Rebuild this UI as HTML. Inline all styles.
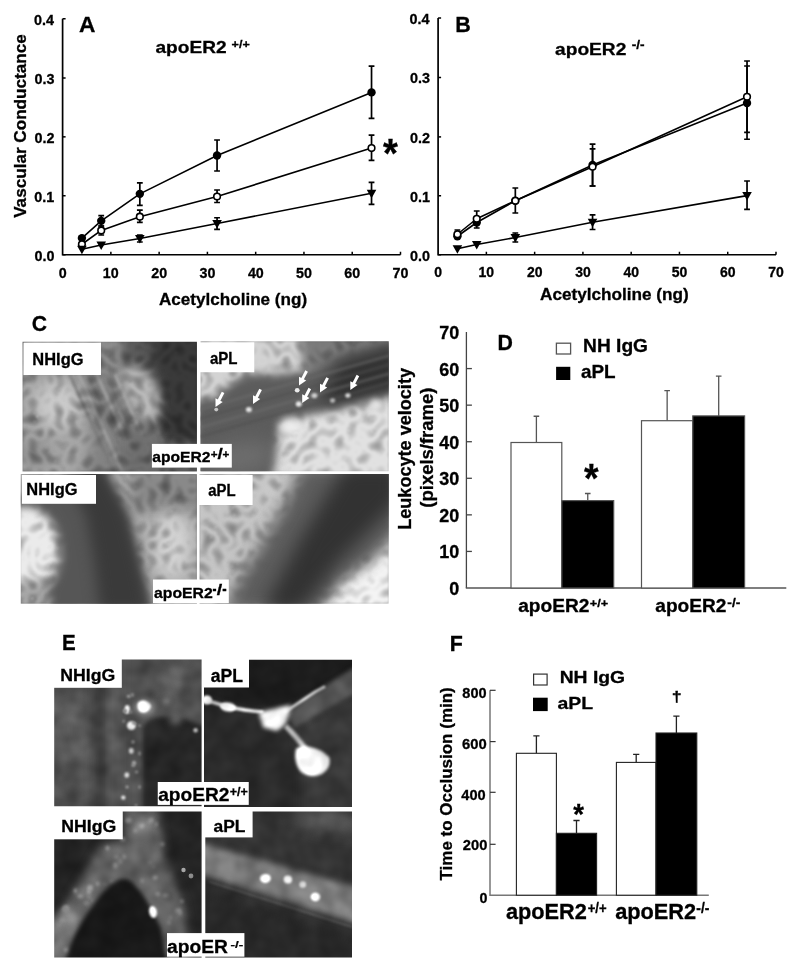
<!DOCTYPE html>
<html><head><meta charset="utf-8"><style>
html,body{margin:0;padding:0;background:#fff;}
svg{display:block;will-change:transform;}
</style></head><body>
<svg width="800" height="972" viewBox="0 0 800 972">
<rect width="800" height="972" fill="#fff"/>
<path d="M62.60 18.75V254.75H400.49" fill="none" stroke="#000" stroke-width="1.7"/>
<path d="M62.60 254.75h3" stroke="#000" stroke-width="1.5"/>
<text transform="matrix(0.14366 0 0 0.14366 34.506 260.506)" font-size="100" font-family="Liberation Sans, sans-serif" font-weight="bold" fill="#000" stroke="#000" stroke-width="2.09">0.0</text>
<path d="M62.60 195.75h3" stroke="#000" stroke-width="1.5"/>
<text transform="matrix(0.14366 0 0 0.14366 34.362 201.506)" font-size="100" font-family="Liberation Sans, sans-serif" font-weight="bold" fill="#000" stroke="#000" stroke-width="2.09">0.1</text>
<path d="M62.60 136.85h3" stroke="#000" stroke-width="1.5"/>
<text transform="matrix(0.14366 0 0 0.14366 34.506 142.606)" font-size="100" font-family="Liberation Sans, sans-serif" font-weight="bold" fill="#000" stroke="#000" stroke-width="2.09">0.2</text>
<path d="M62.60 78.00h3" stroke="#000" stroke-width="1.5"/>
<text transform="matrix(0.14366 0 0 0.14366 34.506 83.756)" font-size="100" font-family="Liberation Sans, sans-serif" font-weight="bold" fill="#000" stroke="#000" stroke-width="2.09">0.3</text>
<path d="M62.60 18.75h3" stroke="#000" stroke-width="1.5"/>
<text transform="matrix(0.14366 0 0 0.14366 33.931 24.506)" font-size="100" font-family="Liberation Sans, sans-serif" font-weight="bold" fill="#000" stroke="#000" stroke-width="2.09">0.4</text>
<text transform="matrix(0.14289 0 0 0.14507 58.670 277.655)" font-size="100" font-family="Liberation Sans, sans-serif" font-weight="bold" fill="#000" stroke="#000" stroke-width="2.08">0</text>
<path d="M110.87 254.75v-3" stroke="#000" stroke-width="1.5"/>
<text transform="matrix(0.14289 0 0 0.14507 102.796 277.655)" font-size="100" font-family="Liberation Sans, sans-serif" font-weight="bold" fill="#000" stroke="#000" stroke-width="2.08">10</text>
<path d="M159.14 254.75v-3" stroke="#000" stroke-width="1.5"/>
<text transform="matrix(0.14289 0 0 0.14507 151.281 277.655)" font-size="100" font-family="Liberation Sans, sans-serif" font-weight="bold" fill="#000" stroke="#000" stroke-width="2.08">20</text>
<path d="M207.41 254.75v-3" stroke="#000" stroke-width="1.5"/>
<text transform="matrix(0.14289 0 0 0.14507 199.622 277.655)" font-size="100" font-family="Liberation Sans, sans-serif" font-weight="bold" fill="#000" stroke="#000" stroke-width="2.08">30</text>
<path d="M255.68 254.75v-3" stroke="#000" stroke-width="1.5"/>
<text transform="matrix(0.14289 0 0 0.14507 247.892 277.655)" font-size="100" font-family="Liberation Sans, sans-serif" font-weight="bold" fill="#000" stroke="#000" stroke-width="2.08">40</text>
<path d="M303.95 254.75v-3" stroke="#000" stroke-width="1.5"/>
<text transform="matrix(0.14289 0 0 0.14507 296.091 277.655)" font-size="100" font-family="Liberation Sans, sans-serif" font-weight="bold" fill="#000" stroke="#000" stroke-width="2.08">50</text>
<path d="M352.22 254.75v-3" stroke="#000" stroke-width="1.5"/>
<text transform="matrix(0.14289 0 0 0.14507 344.289 277.655)" font-size="100" font-family="Liberation Sans, sans-serif" font-weight="bold" fill="#000" stroke="#000" stroke-width="2.08">60</text>
<path d="M400.49 254.75v-3" stroke="#000" stroke-width="1.5"/>
<text transform="matrix(0.14289 0 0 0.14507 392.559 277.655)" font-size="100" font-family="Liberation Sans, sans-serif" font-weight="bold" fill="#000" stroke="#000" stroke-width="2.08">70</text>
<path d="M81.91 238.10 L101.22 220.85 L139.83 193.85 L217.06 155.50 L371.53 92.40" fill="none" stroke="#000" stroke-width="1.6" stroke-linejoin="round"/>
<path d="M81.91 244.25 L101.22 230.40 L139.83 216.70 L217.06 196.50 L371.53 148.10" fill="none" stroke="#000" stroke-width="1.6" stroke-linejoin="round"/>
<path d="M81.91 249.30 L101.22 245.00 L139.83 238.50 L217.06 223.50 L371.53 193.30" fill="none" stroke="#000" stroke-width="1.6" stroke-linejoin="round"/>
<path d="M101.22 215.60V226.00M98.32 215.60h5.8M98.32 226.00h5.8" stroke="#000" stroke-width="1.7" fill="none"/>
<path d="M139.83 182.90V205.40M136.93 182.90h5.8M136.93 205.40h5.8" stroke="#000" stroke-width="1.7" fill="none"/>
<path d="M217.06 140.00V171.00M214.16 140.00h5.8M214.16 171.00h5.8" stroke="#000" stroke-width="1.7" fill="none"/>
<path d="M371.53 66.10V118.40M368.63 66.10h5.8M368.63 118.40h5.8" stroke="#000" stroke-width="1.7" fill="none"/>
<path d="M101.22 226.00V235.00M98.32 226.00h5.8M98.32 235.00h5.8" stroke="#000" stroke-width="1.7" fill="none"/>
<path d="M139.83 210.20V222.30M136.93 210.20h5.8M136.93 222.30h5.8" stroke="#000" stroke-width="1.7" fill="none"/>
<path d="M217.06 190.00V202.50M214.16 190.00h5.8M214.16 202.50h5.8" stroke="#000" stroke-width="1.7" fill="none"/>
<path d="M371.53 135.20V160.40M368.63 135.20h5.8M368.63 160.40h5.8" stroke="#000" stroke-width="1.7" fill="none"/>
<path d="M139.83 235.00V242.00M136.93 235.00h5.8M136.93 242.00h5.8" stroke="#000" stroke-width="1.7" fill="none"/>
<path d="M217.06 217.75V229.30M214.16 217.75h5.8M214.16 229.30h5.8" stroke="#000" stroke-width="1.7" fill="none"/>
<path d="M371.53 182.30V204.40M368.63 182.30h5.8M368.63 204.40h5.8" stroke="#000" stroke-width="1.7" fill="none"/>
<circle cx="81.91" cy="238.10" r="4.2" fill="#000"/>
<circle cx="101.22" cy="220.85" r="4.2" fill="#000"/>
<circle cx="139.83" cy="193.85" r="4.2" fill="#000"/>
<circle cx="217.06" cy="155.50" r="4.2" fill="#000"/>
<circle cx="371.53" cy="92.40" r="4.2" fill="#000"/>
<circle cx="81.91" cy="244.25" r="3.3" fill="#fff" stroke="#000" stroke-width="1.6"/>
<circle cx="101.22" cy="230.40" r="3.3" fill="#fff" stroke="#000" stroke-width="1.6"/>
<circle cx="139.83" cy="216.70" r="3.3" fill="#fff" stroke="#000" stroke-width="1.6"/>
<circle cx="217.06" cy="196.50" r="3.3" fill="#fff" stroke="#000" stroke-width="1.6"/>
<circle cx="371.53" cy="148.10" r="3.3" fill="#fff" stroke="#000" stroke-width="1.6"/>
<path d="M77.11 245.70h9.6l-4.8 8.6z" fill="#000"/>
<path d="M96.42 241.40h9.6l-4.8 8.6z" fill="#000"/>
<path d="M135.03 234.90h9.6l-4.8 8.6z" fill="#000"/>
<path d="M212.26 219.90h9.6l-4.8 8.6z" fill="#000"/>
<path d="M366.73 189.70h9.6l-4.8 8.6z" fill="#000"/>
<path d="M438.10 18.00V254.75H775.99" fill="none" stroke="#000" stroke-width="1.7"/>
<path d="M438.10 254.75h3" stroke="#000" stroke-width="1.5"/>
<text transform="matrix(0.14366 0 0 0.14366 410.106 260.506)" font-size="100" font-family="Liberation Sans, sans-serif" font-weight="bold" fill="#000" stroke="#000" stroke-width="2.09">0.0</text>
<path d="M438.10 195.75h3" stroke="#000" stroke-width="1.5"/>
<text transform="matrix(0.14366 0 0 0.14366 409.962 201.506)" font-size="100" font-family="Liberation Sans, sans-serif" font-weight="bold" fill="#000" stroke="#000" stroke-width="2.09">0.1</text>
<path d="M438.10 136.90h3" stroke="#000" stroke-width="1.5"/>
<text transform="matrix(0.14366 0 0 0.14366 410.106 142.656)" font-size="100" font-family="Liberation Sans, sans-serif" font-weight="bold" fill="#000" stroke="#000" stroke-width="2.09">0.2</text>
<path d="M438.10 77.50h3" stroke="#000" stroke-width="1.5"/>
<text transform="matrix(0.14366 0 0 0.14366 410.106 83.256)" font-size="100" font-family="Liberation Sans, sans-serif" font-weight="bold" fill="#000" stroke="#000" stroke-width="2.09">0.3</text>
<path d="M438.10 18.00h3" stroke="#000" stroke-width="1.5"/>
<text transform="matrix(0.14366 0 0 0.14366 409.531 23.756)" font-size="100" font-family="Liberation Sans, sans-serif" font-weight="bold" fill="#000" stroke="#000" stroke-width="2.09">0.4</text>
<text transform="matrix(0.14012 0 0 0.14225 434.247 277.458)" font-size="100" font-family="Liberation Sans, sans-serif" font-weight="bold" fill="#000" stroke="#000" stroke-width="2.12">0</text>
<path d="M486.37 254.75v-3" stroke="#000" stroke-width="1.5"/>
<text transform="matrix(0.14012 0 0 0.14225 478.453 277.458)" font-size="100" font-family="Liberation Sans, sans-serif" font-weight="bold" fill="#000" stroke="#000" stroke-width="2.12">10</text>
<path d="M534.64 254.75v-3" stroke="#000" stroke-width="1.5"/>
<text transform="matrix(0.14012 0 0 0.14225 526.933 277.458)" font-size="100" font-family="Liberation Sans, sans-serif" font-weight="bold" fill="#000" stroke="#000" stroke-width="2.12">20</text>
<path d="M582.91 254.75v-3" stroke="#000" stroke-width="1.5"/>
<text transform="matrix(0.14012 0 0 0.14225 575.273 277.458)" font-size="100" font-family="Liberation Sans, sans-serif" font-weight="bold" fill="#000" stroke="#000" stroke-width="2.12">30</text>
<path d="M631.18 254.75v-3" stroke="#000" stroke-width="1.5"/>
<text transform="matrix(0.14012 0 0 0.14225 623.543 277.458)" font-size="100" font-family="Liberation Sans, sans-serif" font-weight="bold" fill="#000" stroke="#000" stroke-width="2.12">40</text>
<path d="M679.45 254.75v-3" stroke="#000" stroke-width="1.5"/>
<text transform="matrix(0.14012 0 0 0.14225 671.743 277.458)" font-size="100" font-family="Liberation Sans, sans-serif" font-weight="bold" fill="#000" stroke="#000" stroke-width="2.12">50</text>
<path d="M727.72 254.75v-3" stroke="#000" stroke-width="1.5"/>
<text transform="matrix(0.14012 0 0 0.14225 719.943 277.458)" font-size="100" font-family="Liberation Sans, sans-serif" font-weight="bold" fill="#000" stroke="#000" stroke-width="2.12">60</text>
<path d="M775.99 254.75v-3" stroke="#000" stroke-width="1.5"/>
<text transform="matrix(0.14012 0 0 0.14225 768.213 277.458)" font-size="100" font-family="Liberation Sans, sans-serif" font-weight="bold" fill="#000" stroke="#000" stroke-width="2.12">70</text>
<path d="M457.41 236.25 L476.72 222.50 L515.33 200.75 L592.56 165.00 L747.03 103.10" fill="none" stroke="#000" stroke-width="1.6" stroke-linejoin="round"/>
<path d="M457.41 234.25 L476.72 218.75 L515.33 200.75 L592.56 166.75 L747.03 96.80" fill="none" stroke="#000" stroke-width="1.6" stroke-linejoin="round"/>
<path d="M457.41 248.75 L476.72 244.50 L515.33 237.50 L592.56 222.30 L747.03 195.60" fill="none" stroke="#000" stroke-width="1.6" stroke-linejoin="round"/>
<path d="M592.56 144.20V186.00M589.66 144.20h5.8M589.66 186.00h5.8" stroke="#000" stroke-width="1.7" fill="none"/>
<path d="M747.03 61.00V139.25M744.13 61.00h5.8M744.13 139.25h5.8" stroke="#000" stroke-width="1.7" fill="none"/>
<path d="M457.41 230.00V238.00M454.51 230.00h5.8M454.51 238.00h5.8" stroke="#000" stroke-width="1.7" fill="none"/>
<path d="M476.72 211.00V228.00M473.82 211.00h5.8M473.82 228.00h5.8" stroke="#000" stroke-width="1.7" fill="none"/>
<path d="M515.33 188.00V213.00M512.43 188.00h5.8M512.43 213.00h5.8" stroke="#000" stroke-width="1.7" fill="none"/>
<path d="M592.56 148.90V186.00M589.66 148.90h5.8M589.66 186.00h5.8" stroke="#000" stroke-width="1.7" fill="none"/>
<path d="M747.03 66.00V132.40M744.13 66.00h5.8M744.13 132.40h5.8" stroke="#000" stroke-width="1.7" fill="none"/>
<path d="M515.33 233.00V242.00M512.43 233.00h5.8M512.43 242.00h5.8" stroke="#000" stroke-width="1.7" fill="none"/>
<path d="M592.56 214.90V229.50M589.66 214.90h5.8M589.66 229.50h5.8" stroke="#000" stroke-width="1.7" fill="none"/>
<path d="M747.03 181.00V209.40M744.13 181.00h5.8M744.13 209.40h5.8" stroke="#000" stroke-width="1.7" fill="none"/>
<circle cx="457.41" cy="236.25" r="4.2" fill="#000"/>
<circle cx="476.72" cy="222.50" r="4.2" fill="#000"/>
<circle cx="515.33" cy="200.75" r="4.2" fill="#000"/>
<circle cx="592.56" cy="165.00" r="4.2" fill="#000"/>
<circle cx="747.03" cy="103.10" r="4.2" fill="#000"/>
<circle cx="457.41" cy="234.25" r="3.3" fill="#fff" stroke="#000" stroke-width="1.6"/>
<circle cx="476.72" cy="218.75" r="3.3" fill="#fff" stroke="#000" stroke-width="1.6"/>
<circle cx="515.33" cy="200.75" r="3.3" fill="#fff" stroke="#000" stroke-width="1.6"/>
<circle cx="592.56" cy="166.75" r="3.3" fill="#fff" stroke="#000" stroke-width="1.6"/>
<circle cx="747.03" cy="96.80" r="3.3" fill="#fff" stroke="#000" stroke-width="1.6"/>
<path d="M452.61 245.15h9.6l-4.8 8.6z" fill="#000"/>
<path d="M471.92 240.90h9.6l-4.8 8.6z" fill="#000"/>
<path d="M510.53 233.90h9.6l-4.8 8.6z" fill="#000"/>
<path d="M587.76 218.70h9.6l-4.8 8.6z" fill="#000"/>
<path d="M742.23 192.00h9.6l-4.8 8.6z" fill="#000"/>
<text transform="matrix(0.22727 0 0 0.21765 78.918 31.918)" font-size="100" font-family="Liberation Sans, sans-serif" font-weight="bold" fill="#000" stroke="#000" stroke-width="1.35">A</text>
<text transform="matrix(0.19110 0 0 0.16868 155.427 53.058)" font-size="100" font-family="Liberation Sans, sans-serif" font-weight="bold" fill="#000" stroke="#000" stroke-width="1.67">apoER2</text>
<text transform="matrix(0.12584 0 0 0.11622 231.557 47.584)" font-size="100" font-family="Liberation Sans, sans-serif" font-weight="bold" fill="#000" stroke="#000" stroke-width="2.48">+/+</text>
<text transform="matrix(0.38205 0 0 0.40811 383.100 166.859)" font-size="100" font-family="Liberation Sans, sans-serif" font-weight="bold" fill="#000" stroke="#000" stroke-width="0.76">*</text>
<text transform="matrix(0.17113 0 0 0.17021 158.987 305.426)" font-size="100" font-family="Liberation Sans, sans-serif" font-weight="bold" fill="#000" stroke="#000" stroke-width="1.76">Acetylcholine (ng)</text>
<text transform="matrix(0 -0.17144 0.17432 0 26.026 217.871)" font-size="100" font-family="Liberation Sans, sans-serif" font-weight="bold" fill="#000" stroke="#000" stroke-width="1.74">Vascular Conductance</text>
<text transform="matrix(0.21557 0 0 0.22319 455.241 31.700)" font-size="100" font-family="Liberation Sans, sans-serif" font-weight="bold" fill="#000" stroke="#000" stroke-width="1.37">B</text>
<text transform="matrix(0.19178 0 0 0.17143 555.025 54.900)" font-size="100" font-family="Liberation Sans, sans-serif" font-weight="bold" fill="#000" stroke="#000" stroke-width="1.65">apoER2</text>
<text transform="matrix(0.13663 0 0 0.12162 631.703 49.378)" font-size="100" font-family="Liberation Sans, sans-serif" font-weight="bold" fill="#000" stroke="#000" stroke-width="2.32">-/-</text>
<text transform="matrix(0.17171 0 0 0.17340 539.985 299.859)" font-size="100" font-family="Liberation Sans, sans-serif" font-weight="bold" fill="#000" stroke="#000" stroke-width="1.74">Acetylcholine (ng)</text>
<path d="M466.4 332.01V588.0" fill="none" stroke="#444" stroke-width="1.3"/>
<path d="M465.79999999999995 588.0H786.3" fill="none" stroke="#555" stroke-width="1.5"/>
<text transform="matrix(0.17958 0 0 0.17606 449.242 594.974)" font-size="100" font-family="Liberation Sans, sans-serif" font-weight="bold" fill="#000" stroke="#000" stroke-width="1.69">0</text>
<path d="M466.4 551.43h5.5" stroke="#444" stroke-width="1.3"/>
<text transform="matrix(0.17958 0 0 0.17606 439.185 558.404)" font-size="100" font-family="Liberation Sans, sans-serif" font-weight="bold" fill="#000" stroke="#000" stroke-width="1.69">10</text>
<path d="M466.4 514.86h5.5" stroke="#444" stroke-width="1.3"/>
<text transform="matrix(0.17958 0 0 0.17606 439.185 521.834)" font-size="100" font-family="Liberation Sans, sans-serif" font-weight="bold" fill="#000" stroke="#000" stroke-width="1.69">20</text>
<path d="M466.4 478.29h5.5" stroke="#444" stroke-width="1.3"/>
<text transform="matrix(0.17958 0 0 0.17606 439.185 485.264)" font-size="100" font-family="Liberation Sans, sans-serif" font-weight="bold" fill="#000" stroke="#000" stroke-width="1.69">30</text>
<path d="M466.4 441.72h5.5" stroke="#444" stroke-width="1.3"/>
<text transform="matrix(0.17958 0 0 0.17606 439.185 448.694)" font-size="100" font-family="Liberation Sans, sans-serif" font-weight="bold" fill="#000" stroke="#000" stroke-width="1.69">40</text>
<path d="M466.4 405.15h5.5" stroke="#444" stroke-width="1.3"/>
<text transform="matrix(0.17958 0 0 0.17606 439.185 412.124)" font-size="100" font-family="Liberation Sans, sans-serif" font-weight="bold" fill="#000" stroke="#000" stroke-width="1.69">50</text>
<path d="M466.4 368.58h5.5" stroke="#444" stroke-width="1.3"/>
<text transform="matrix(0.17958 0 0 0.17606 439.185 375.554)" font-size="100" font-family="Liberation Sans, sans-serif" font-weight="bold" fill="#000" stroke="#000" stroke-width="1.69">60</text>
<text transform="matrix(0.17958 0 0 0.17606 439.185 338.984)" font-size="100" font-family="Liberation Sans, sans-serif" font-weight="bold" fill="#000" stroke="#000" stroke-width="1.69">70</text>
<path d="M536.40 442.50V416.25M533.60 416.25h5.6" stroke="#555" stroke-width="1.3"/>
<path d="M587.75 500.60V493.50M584.95 493.50h5.6" stroke="#555" stroke-width="1.3"/>
<path d="M667.15 420.70V390.70M664.35 390.70h5.6" stroke="#555" stroke-width="1.3"/>
<path d="M718.70 415.90V376.20M715.90 376.20h5.6" stroke="#555" stroke-width="1.3"/>
<rect x="511.00" y="442.50" width="50.80" height="145.50" fill="#fff" stroke="#555" stroke-width="1.2"/>
<rect x="561.80" y="500.60" width="51.90" height="87.40" fill="#000" stroke="#555" stroke-width="1.2"/>
<rect x="641.50" y="420.70" width="51.30" height="167.30" fill="#fff" stroke="#555" stroke-width="1.2"/>
<rect x="692.80" y="415.90" width="51.80" height="172.10" fill="#000" stroke="#555" stroke-width="1.2"/>
<text transform="matrix(0.21311 0 0 0.22464 497.508 349.750)" font-size="100" font-family="Liberation Sans, sans-serif" font-weight="bold" fill="#000" stroke="#000" stroke-width="1.37">D</text>
<rect x="556.4" y="343.2" width="14.2" height="10.8" fill="#fff" stroke="#555" stroke-width="1.3"/>
<rect x="556.1" y="366.8" width="14.2" height="13.2" fill="#000"/>
<text transform="matrix(0.19172 0 0 0.17912 583.058 352.138)" font-size="100" font-family="Liberation Sans, sans-serif" font-weight="bold" fill="#000" stroke="#000" stroke-width="1.62">NH IgG</text>
<text transform="matrix(0.18870 0 0 0.18571 580.934 378.214)" font-size="100" font-family="Liberation Sans, sans-serif" font-weight="bold" fill="#000" stroke="#000" stroke-width="1.60">aPL</text>
<text transform="matrix(0.37436 0 0 0.40541 584.000 492.223)" font-size="100" font-family="Liberation Sans, sans-serif" font-weight="bold" fill="#000" stroke="#000" stroke-width="0.77">*</text>
<text transform="matrix(0 -0.18083 0.17872 0 411.347 529.766)" font-size="100" font-family="Liberation Sans, sans-serif" font-weight="bold" fill="#000" stroke="#000" stroke-width="1.67">Leukocyte velocity</text>
<text transform="matrix(0 -0.18477 0.18085 0 433.202 507.674)" font-size="100" font-family="Liberation Sans, sans-serif" font-weight="bold" fill="#000" stroke="#000" stroke-width="1.64">(pixels/frame)</text>
<text transform="matrix(0.19151 0 0 0.17582 518.225 611.908)" font-size="100" font-family="Liberation Sans, sans-serif" font-weight="bold" fill="#000" stroke="#000" stroke-width="1.63">apoER2</text>
<text transform="matrix(0.12774 0 0 0.11824 589.739 606.632)" font-size="100" font-family="Liberation Sans, sans-serif" font-weight="bold" fill="#000" stroke="#000" stroke-width="2.44">+/+</text>
<text transform="matrix(0.19110 0 0 0.17582 655.277 611.908)" font-size="100" font-family="Liberation Sans, sans-serif" font-weight="bold" fill="#000" stroke="#000" stroke-width="1.64">apoER2</text>
<text transform="matrix(0.13779 0 0 0.11959 727.349 606.630)" font-size="100" font-family="Liberation Sans, sans-serif" font-weight="bold" fill="#000" stroke="#000" stroke-width="2.33">-/-</text>
<path d="M490.0 690.3V895.2H708.8" fill="none" stroke="#777" stroke-width="1.5"/>
<text transform="matrix(0.14255 0 0 0.14085 479.530 902.759)" font-size="100" font-family="Liberation Sans, sans-serif" font-weight="bold" fill="#000" stroke="#000" stroke-width="2.12">0</text>
<path d="M490.0 844.30h5.6" stroke="#333" stroke-width="1.2"/>
<text transform="matrix(0.14688 0 0 0.14507 462.859 849.555)" font-size="100" font-family="Liberation Sans, sans-serif" font-weight="bold" fill="#000" stroke="#000" stroke-width="2.06">200</text>
<path d="M490.0 792.30h5.6" stroke="#333" stroke-width="1.2"/>
<text transform="matrix(0.14596 0 0 0.14085 461.308 799.659)" font-size="100" font-family="Liberation Sans, sans-serif" font-weight="bold" fill="#000" stroke="#000" stroke-width="2.09">400</text>
<path d="M490.0 741.60h5.6" stroke="#333" stroke-width="1.2"/>
<text transform="matrix(0.14811 0 0 0.14648 462.108 748.754)" font-size="100" font-family="Liberation Sans, sans-serif" font-weight="bold" fill="#000" stroke="#000" stroke-width="2.04">600</text>
<path d="M490.0 690.30h5.6" stroke="#333" stroke-width="1.2"/>
<text transform="matrix(0.14500 0 0 0.14507 462.365 697.955)" font-size="100" font-family="Liberation Sans, sans-serif" font-weight="bold" fill="#000" stroke="#000" stroke-width="2.07">800</text>
<path d="M536.40 753.30V735.80M533.30 735.80h6.2" stroke="#222" stroke-width="1.3"/>
<path d="M576.50 833.30V820.50M573.40 820.50h6.2" stroke="#222" stroke-width="1.3"/>
<path d="M636.20 762.40V754.40M633.10 754.40h6.2" stroke="#222" stroke-width="1.3"/>
<path d="M676.40 733.00V716.10M673.30 716.10h6.2" stroke="#222" stroke-width="1.3"/>
<rect x="516.40" y="753.30" width="40.00" height="141.90" fill="#fff" stroke="#222" stroke-width="1.1"/>
<rect x="556.40" y="833.30" width="40.20" height="61.90" fill="#000" stroke="#222" stroke-width="1.1"/>
<rect x="616.40" y="762.40" width="39.60" height="132.80" fill="#fff" stroke="#222" stroke-width="1.1"/>
<rect x="656.00" y="733.00" width="40.80" height="162.20" fill="#000" stroke="#222" stroke-width="1.1"/>
<text transform="matrix(0.21400 0 0 0.22754 449.702 650.800)" font-size="100" font-family="Liberation Sans, sans-serif" font-weight="bold" fill="#000" stroke="#000" stroke-width="1.36">F</text>
<rect x="533.6" y="674.1" width="13.5" height="10.9" fill="#fff" stroke="#333" stroke-width="1.2"/>
<rect x="533" y="697.7" width="14.7" height="13.4" fill="#000"/>
<text transform="matrix(0.19325 0 0 0.17033 559.647 683.123)" font-size="100" font-family="Liberation Sans, sans-serif" font-weight="bold" fill="#000" stroke="#000" stroke-width="1.65">NH IgG</text>
<text transform="matrix(0.19435 0 0 0.17286 557.417 708.827)" font-size="100" font-family="Liberation Sans, sans-serif" font-weight="bold" fill="#000" stroke="#000" stroke-width="1.63">aPL</text>
<text transform="matrix(0.27564 0 0 0.29730 573.250 823.514)" font-size="100" font-family="Liberation Sans, sans-serif" font-weight="bold" fill="#000" stroke="#000" stroke-width="1.05">*</text>
<text transform="matrix(0.17857 0 0 0.13797 671.650 702.072)" font-size="100" font-family="Liberation Sans, sans-serif" font-weight="bold" fill="#000" stroke="#000" stroke-width="1.90">†</text>
<text transform="matrix(0 -0.17003 0.17394 0 451.947 880.470)" font-size="100" font-family="Liberation Sans, sans-serif" font-weight="bold" fill="#000" stroke="#000" stroke-width="1.74">Time to Occlusion (min)</text>
<text transform="matrix(0.21726 0 0 0.21429 505.948 919.000)" font-size="100" font-family="Liberation Sans, sans-serif" font-weight="bold" fill="#000" stroke="#000" stroke-width="1.39">apoER2</text>
<text transform="matrix(0.13066 0 0 0.14189 587.677 912.858)" font-size="100" font-family="Liberation Sans, sans-serif" font-weight="bold" fill="#000" stroke="#000" stroke-width="2.20">+/+</text>
<text transform="matrix(0.21753 0 0 0.21154 615.197 918.658)" font-size="100" font-family="Liberation Sans, sans-serif" font-weight="bold" fill="#000" stroke="#000" stroke-width="1.40">apoER2</text>
<text transform="matrix(0.13779 0 0 0.14189 696.349 912.858)" font-size="100" font-family="Liberation Sans, sans-serif" font-weight="bold" fill="#000" stroke="#000" stroke-width="2.15">-/-</text>
<defs><filter id="bl10" x="0" y="0" width="800" height="972" filterUnits="userSpaceOnUse" color-interpolation-filters="sRGB"><feGaussianBlur stdDeviation="10"/></filter>
<filter id="bl9" x="0" y="0" width="800" height="972" filterUnits="userSpaceOnUse" color-interpolation-filters="sRGB"><feGaussianBlur stdDeviation="9"/></filter>
<filter id="bl8" x="0" y="0" width="800" height="972" filterUnits="userSpaceOnUse" color-interpolation-filters="sRGB"><feGaussianBlur stdDeviation="8"/></filter>
<filter id="bl7" x="0" y="0" width="800" height="972" filterUnits="userSpaceOnUse" color-interpolation-filters="sRGB"><feGaussianBlur stdDeviation="7"/></filter>
<filter id="bl6" x="0" y="0" width="800" height="972" filterUnits="userSpaceOnUse" color-interpolation-filters="sRGB"><feGaussianBlur stdDeviation="6"/></filter>
<filter id="bl5" x="0" y="0" width="800" height="972" filterUnits="userSpaceOnUse" color-interpolation-filters="sRGB"><feGaussianBlur stdDeviation="5"/></filter>
<filter id="bl4" x="0" y="0" width="800" height="972" filterUnits="userSpaceOnUse" color-interpolation-filters="sRGB"><feGaussianBlur stdDeviation="4"/></filter>
<filter id="bl3" x="0" y="0" width="800" height="972" filterUnits="userSpaceOnUse" color-interpolation-filters="sRGB"><feGaussianBlur stdDeviation="3"/></filter>
<filter id="bl2" x="0" y="0" width="800" height="972" filterUnits="userSpaceOnUse" color-interpolation-filters="sRGB"><feGaussianBlur stdDeviation="2"/></filter>
<filter id="bl1_6" x="0" y="0" width="800" height="972" filterUnits="userSpaceOnUse" color-interpolation-filters="sRGB"><feGaussianBlur stdDeviation="1.6"/></filter>
<filter id="bl1_5" x="0" y="0" width="800" height="972" filterUnits="userSpaceOnUse" color-interpolation-filters="sRGB"><feGaussianBlur stdDeviation="1.5"/></filter>
<filter id="bl1_4" x="0" y="0" width="800" height="972" filterUnits="userSpaceOnUse" color-interpolation-filters="sRGB"><feGaussianBlur stdDeviation="1.4"/></filter>
<filter id="bl1_3" x="0" y="0" width="800" height="972" filterUnits="userSpaceOnUse" color-interpolation-filters="sRGB"><feGaussianBlur stdDeviation="1.3"/></filter>
<filter id="bl1_2" x="0" y="0" width="800" height="972" filterUnits="userSpaceOnUse" color-interpolation-filters="sRGB"><feGaussianBlur stdDeviation="1.2"/></filter>
<filter id="bl1_0" x="0" y="0" width="800" height="972" filterUnits="userSpaceOnUse" color-interpolation-filters="sRGB"><feGaussianBlur stdDeviation="1.0"/></filter>
<filter id="bl0_9" x="0" y="0" width="800" height="972" filterUnits="userSpaceOnUse" color-interpolation-filters="sRGB"><feGaussianBlur stdDeviation="0.9"/></filter>
<filter id="bl0_8" x="0" y="0" width="800" height="972" filterUnits="userSpaceOnUse" color-interpolation-filters="sRGB"><feGaussianBlur stdDeviation="0.8"/></filter>
<filter id="bl0_7" x="0" y="0" width="800" height="972" filterUnits="userSpaceOnUse" color-interpolation-filters="sRGB"><feGaussianBlur stdDeviation="0.7"/></filter>
<filter id="bl0_4" x="0" y="0" width="800" height="972" filterUnits="userSpaceOnUse" color-interpolation-filters="sRGB"><feGaussianBlur stdDeviation="0.4"/></filter>
<clipPath id="cp_ctl"><rect x="22.5" y="341.75" width="174.5" height="129.75"/></clipPath>
<filter id="tx_ctl" x="22.5" y="341.75" width="174.5" height="129.75" filterUnits="userSpaceOnUse" color-interpolation-filters="sRGB">
<feTurbulence type="turbulence" baseFrequency="0.075" numOctaves="1" seed="32" result="n"/>
<feColorMatrix in="n" type="matrix" values="-1.6 0 0 0 1.12  -1.6 0 0 0 1.12  -1.6 0 0 0 1.12  0 0 0 0 1" result="g"/>
<feGaussianBlur in="g" stdDeviation="1.0" result="gb"/>
<feComposite in="SourceGraphic" in2="gb" operator="arithmetic" k1="0.5" k2="0.61" k3="0" k4="0"/>
</filter>
<clipPath id="cp_ctr"><rect x="200.5" y="341.25" width="188.25" height="130"/></clipPath>
<filter id="tx_ctr" x="200.5" y="341.25" width="188.25" height="130" filterUnits="userSpaceOnUse" color-interpolation-filters="sRGB">
<feTurbulence type="turbulence" baseFrequency="0.075" numOctaves="1" seed="38" result="n"/>
<feColorMatrix in="n" type="matrix" values="-1.6 0 0 0 1.12  -1.6 0 0 0 1.12  -1.6 0 0 0 1.12  0 0 0 0 1" result="g"/>
<feGaussianBlur in="g" stdDeviation="1.0" result="gb"/>
<feComposite in="SourceGraphic" in2="gb" operator="arithmetic" k1="0.45" k2="0.649" k3="0" k4="0"/>
</filter>
<clipPath id="cp_cbl"><rect x="20.75" y="474.0" width="176.25" height="129.75"/></clipPath>
<filter id="tx_cbl" x="20.75" y="474.0" width="176.25" height="129.75" filterUnits="userSpaceOnUse" color-interpolation-filters="sRGB">
<feTurbulence type="turbulence" baseFrequency="0.075" numOctaves="1" seed="14" result="n"/>
<feColorMatrix in="n" type="matrix" values="-1.6 0 0 0 1.12  -1.6 0 0 0 1.12  -1.6 0 0 0 1.12  0 0 0 0 1" result="g"/>
<feGaussianBlur in="g" stdDeviation="1.0" result="gb"/>
<feComposite in="SourceGraphic" in2="gb" operator="arithmetic" k1="0.45" k2="0.649" k3="0" k4="0"/>
</filter>
<clipPath id="cp_cbr"><rect x="199.5" y="474.0" width="189.25" height="129.75"/></clipPath>
<filter id="tx_cbr" x="199.5" y="474.0" width="189.25" height="129.75" filterUnits="userSpaceOnUse" color-interpolation-filters="sRGB">
<feTurbulence type="turbulence" baseFrequency="0.075" numOctaves="1" seed="20" result="n"/>
<feColorMatrix in="n" type="matrix" values="-1.6 0 0 0 1.12  -1.6 0 0 0 1.12  -1.6 0 0 0 1.12  0 0 0 0 1" result="g"/>
<feGaussianBlur in="g" stdDeviation="1.0" result="gb"/>
<feComposite in="SourceGraphic" in2="gb" operator="arithmetic" k1="0.45" k2="0.649" k3="0" k4="0"/>
</filter>
<clipPath id="cp_etl"><rect x="54.2" y="659.4" width="147.4" height="146.8"/></clipPath>
<filter id="tx_etl" x="54.2" y="659.4" width="147.4" height="146.8" filterUnits="userSpaceOnUse" color-interpolation-filters="sRGB">
<feTurbulence type="fractalNoise" baseFrequency="0.05" numOctaves="2" seed="34" result="n"/>
<feColorMatrix in="n" type="matrix" values="1 0 0 0 0  1 0 0 0 0  1 0 0 0 0  0 0 0 0 1" result="g"/>
<feComposite in="SourceGraphic" in2="g" operator="arithmetic" k1="0.6" k2="0.7" k3="0" k4="0"/>
</filter>
<clipPath id="cp_etr"><rect x="204.0" y="659.8" width="148.0" height="147.2"/></clipPath>
<filter id="tx_etr" x="204.0" y="659.8" width="148.0" height="147.2" filterUnits="userSpaceOnUse" color-interpolation-filters="sRGB">
<feTurbulence type="fractalNoise" baseFrequency="0.05" numOctaves="2" seed="40" result="n"/>
<feColorMatrix in="n" type="matrix" values="1 0 0 0 0  1 0 0 0 0  1 0 0 0 0  0 0 0 0 1" result="g"/>
<feComposite in="SourceGraphic" in2="g" operator="arithmetic" k1="0.5" k2="0.75" k3="0" k4="0"/>
</filter>
<clipPath id="cp_ebl"><rect x="54.2" y="811.4" width="147.4" height="146.2"/></clipPath>
<filter id="tx_ebl" x="54.2" y="811.4" width="147.4" height="146.2" filterUnits="userSpaceOnUse" color-interpolation-filters="sRGB">
<feTurbulence type="fractalNoise" baseFrequency="0.05" numOctaves="2" seed="16" result="n"/>
<feColorMatrix in="n" type="matrix" values="1 0 0 0 0  1 0 0 0 0  1 0 0 0 0  0 0 0 0 1" result="g"/>
<feComposite in="SourceGraphic" in2="g" operator="arithmetic" k1="0.6" k2="0.7" k3="0" k4="0"/>
</filter>
<clipPath id="cp_ebr"><rect x="205.3" y="811.4" width="146.7" height="146.2"/></clipPath>
<filter id="tx_ebr" x="205.3" y="811.4" width="146.7" height="146.2" filterUnits="userSpaceOnUse" color-interpolation-filters="sRGB">
<feTurbulence type="fractalNoise" baseFrequency="0.05" numOctaves="2" seed="22" result="n"/>
<feColorMatrix in="n" type="matrix" values="1 0 0 0 0  1 0 0 0 0  1 0 0 0 0  0 0 0 0 1" result="g"/>
<feComposite in="SourceGraphic" in2="g" operator="arithmetic" k1="0.5" k2="0.75" k3="0" k4="0"/>
</filter></defs>
<g clip-path="url(#cp_ctl)"><g filter="url(#tx_ctl)"><rect x="2.5" y="321.75" width="214.5" height="169.75" fill="#767676"/><polygon points="10,372 78,372 92,440 80,480 10,480" fill="#969696" filter="url(#bl7)"/><ellipse cx="58" cy="405" rx="24" ry="24" transform="rotate(0 58 405)" fill="#b6b6b6" filter="url(#bl8)"/><ellipse cx="35" cy="455" rx="16" ry="14" transform="rotate(0 35 455)" fill="#828282" filter="url(#bl7)"/><polygon points="100,330 123,330 123,376 100,376" fill="#808080" filter="url(#bl5)"/><polygon points="123,330 152,330 150,368 123,368" fill="#525252" filter="url(#bl5)"/><path d="M70 375 L115 475" fill="none" stroke="#6c6c6c" stroke-width="2.4" stroke-linecap="round" stroke-linejoin="round" filter="url(#bl1_6)"/><path d="M79 375 L124 475" fill="none" stroke="#989898" stroke-width="2.4" stroke-linecap="round" stroke-linejoin="round" filter="url(#bl1_6)"/><path d="M88 375 L133 475" fill="none" stroke="#6c6c6c" stroke-width="2.4" stroke-linecap="round" stroke-linejoin="round" filter="url(#bl1_6)"/><path d="M97 375 L142 475" fill="none" stroke="#989898" stroke-width="2.4" stroke-linecap="round" stroke-linejoin="round" filter="url(#bl1_6)"/><path d="M106 375 L151 475" fill="none" stroke="#6c6c6c" stroke-width="2.4" stroke-linecap="round" stroke-linejoin="round" filter="url(#bl1_6)"/><path d="M115 375 L160 475" fill="none" stroke="#989898" stroke-width="2.4" stroke-linecap="round" stroke-linejoin="round" filter="url(#bl1_6)"/><path d="M124 375 L169 475" fill="none" stroke="#6c6c6c" stroke-width="2.4" stroke-linecap="round" stroke-linejoin="round" filter="url(#bl1_6)"/><path d="M133 375 L178 475" fill="none" stroke="#989898" stroke-width="2.4" stroke-linecap="round" stroke-linejoin="round" filter="url(#bl1_6)"/><polygon points="150,330 210,330 210,446 162,446 156,425 160,392 148,360" fill="#343434" filter="url(#bl6)"/><polygon points="150,446 210,446 210,480 150,480" fill="#555555" filter="url(#bl5)"/><polygon points="120,372 135,366 150,378 160,400 158,418 145,420 128,400" fill="#a8a8a8" filter="url(#bl5)"/><polygon points="121,428 156,428 160,480 121,480" fill="#646464" filter="url(#bl6)"/></g></g>
<g clip-path="url(#cp_ctr)"><g filter="url(#tx_ctr)"><rect x="180.5" y="321.25" width="228.25" height="170" fill="#c0c0c0"/><polygon points="300,330 400,330 400,360 303,372" fill="#707070" filter="url(#bl4)"/><polygon points="282,420 321,412.6 368,398 400,391 400,480 272,480 276,445" fill="#cdcdcd" filter="url(#bl4)"/></g><polygon points="195,400 215,398 236,380 253.5,373.5 271.3,375.3 303.3,371.7 338.8,357.5 395,341 395,391 368,398 321,412.6 282,420 276,445 272,480 195,480" fill="#5c5c5c" filter="url(#bl4)"/><polygon points="340,362 400,345 400,391 345,403 320,405 328,382" fill="#323232" filter="url(#bl8)"/><ellipse cx="240" cy="458" rx="35" ry="15" transform="rotate(-10 240 458)" fill="#6e6e6e" filter="url(#bl10)"/><path d="M195 411 L395 354" fill="none" stroke="#6c6c6c" stroke-width="1.6" stroke-linecap="round" stroke-linejoin="round" filter="url(#bl1_5)"/><path d="M195 420 L395 363" fill="none" stroke="#505050" stroke-width="1.6" stroke-linecap="round" stroke-linejoin="round" filter="url(#bl1_5)"/><path d="M195 429 L395 372" fill="none" stroke="#6c6c6c" stroke-width="1.6" stroke-linecap="round" stroke-linejoin="round" filter="url(#bl1_5)"/><path d="M195 438 L395 381" fill="none" stroke="#505050" stroke-width="1.6" stroke-linecap="round" stroke-linejoin="round" filter="url(#bl1_5)"/><ellipse cx="289" cy="428" rx="10" ry="8" transform="rotate(0 289 428)" fill="#f0f0f0" filter="url(#bl4)"/><ellipse cx="377" cy="405" rx="6" ry="5" transform="rotate(0 377 405)" fill="#eeeeee" filter="url(#bl3)"/><ellipse cx="216.25" cy="409.6" rx="2.0" ry="1.8" transform="rotate(0 216.25 409.6)" fill="#c8c8c8" filter="url(#bl0_7)"/><ellipse cx="248.9" cy="409.6" rx="3.0" ry="2.7" transform="rotate(0 248.9 409.6)" fill="#e4e4e4" filter="url(#bl0_8)"/><ellipse cx="297.2" cy="390.3" rx="2.4" ry="2.2" transform="rotate(0 297.2 390.3)" fill="#ebebeb" filter="url(#bl0_7)"/><ellipse cx="298.75" cy="404" rx="3.0" ry="2.8" transform="rotate(0 298.75 404)" fill="#e8e8e8" filter="url(#bl0_8)"/><ellipse cx="314.4" cy="395.6" rx="3.0" ry="2.6" transform="rotate(0 314.4 395.6)" fill="#cdcdcd" filter="url(#bl0_8)"/><ellipse cx="332.6" cy="400.6" rx="2.6" ry="2.3" transform="rotate(0 332.6 400.6)" fill="#b4b4b4" filter="url(#bl0_8)"/><ellipse cx="347.9" cy="395.5" rx="2.6" ry="2.3" transform="rotate(0 347.9 395.5)" fill="#d7d7d7" filter="url(#bl0_8)"/><g filter="url(#bl0_4)"><path d="M218.6 401.0L223.1 392.4" stroke="#fff" stroke-width="2.9"/><polygon points="215.5,407.0 222.7,402.0 215.5,398.2" fill="#fff"/></g><g filter="url(#bl0_4)"><path d="M256.1 398.0L260.6 389.4" stroke="#fff" stroke-width="2.9"/><polygon points="253.0,404.0 260.2,399.0 253.0,395.2" fill="#fff"/></g><g filter="url(#bl0_4)"><path d="M302.1 379.6L306.6 371.0" stroke="#fff" stroke-width="2.9"/><polygon points="299.0,385.6 306.2,380.6 299.0,376.8" fill="#fff"/></g><g filter="url(#bl0_4)"><path d="M305.3 397.1L309.8 388.5" stroke="#fff" stroke-width="2.9"/><polygon points="302.2,403.1 309.4,398.1 302.2,394.3" fill="#fff"/></g><g filter="url(#bl0_4)"><path d="M323.1 386.5L327.6 377.9" stroke="#fff" stroke-width="2.9"/><polygon points="320.0,392.5 327.2,387.5 320.0,383.7" fill="#fff"/></g><g filter="url(#bl0_4)"><path d="M353.4 384.1L357.9 375.5" stroke="#fff" stroke-width="2.9"/><polygon points="350.3,390.1 357.5,385.1 350.3,381.3" fill="#fff"/></g></g>
<g clip-path="url(#cp_cbl)"><g filter="url(#tx_cbl)"><rect x="0.75" y="454.0" width="216.25" height="169.75" fill="#a0a0a0"/><polygon points="130,465 210,465 210,512 130,512" fill="#7d7d7d" filter="url(#bl7)"/><polygon points="10,508 34,508 48,520 56,537 58,558 52,573 44,580 10,580" fill="#d6d6d6" filter="url(#bl4)"/><ellipse cx="38" cy="597" rx="26" ry="12" transform="rotate(0 38 597)" fill="#969696" filter="url(#bl6)"/><ellipse cx="172" cy="545" rx="18" ry="32" transform="rotate(0 172 545)" fill="#c0c0c0" filter="url(#bl7)"/></g><polygon points="96,465 100,465 127,515 138.6,561 152.3,612 52,612 50,590 56,578 62,560 60,537 52,518 36,506 10,504 10,498" fill="#565656" filter="url(#bl4)"/><polygon points="92,465 102,465 127,515 138.6,561 150,612 100,612 94,560 86,515 72,490" fill="#3a3a3a" filter="url(#bl7)"/></g>
<g clip-path="url(#cp_cbr)"><g filter="url(#tx_cbr)"><rect x="179.5" y="454.0" width="229.25" height="169.75" fill="#b4b4b4"/><polygon points="318.5,612 322,598 343,580 367.6,565 400,535 400,612" fill="#dedede" filter="url(#bl5)"/><ellipse cx="225" cy="540" rx="22" ry="30" transform="rotate(0 225 540)" fill="#b2b2b2" filter="url(#bl9)"/><ellipse cx="280" cy="488" rx="18" ry="10" transform="rotate(0 280 488)" fill="#b9b9b9" filter="url(#bl7)"/></g><polygon points="302,465 400,465 400,530 367.6,563 343,578 318.5,612 222,612 226,604 244,572 264,540 284,506" fill="#5c5c5c" filter="url(#bl8)"/><polygon points="345,465 400,465 400,500 340,560 300,612 262,612 300,540 330,490" fill="#323232" filter="url(#bl9)"/></g>
<g clip-path="url(#cp_etl)"><g filter="url(#tx_etl)"><rect x="34.2" y="639.4" width="187.4" height="186.8" fill="#4e4e4e"/><ellipse cx="72" cy="730" rx="22" ry="50" transform="rotate(0 72 730)" fill="#5a5a5a" filter="url(#bl10)"/><polygon points="93,650 108,650 108,815 93,815" fill="#3c3c3c" filter="url(#bl4)"/><polygon points="108,650 123,650 123,815 108,815" fill="#545454" filter="url(#bl4)"/><path d="M143 810L143 728Q146 718 160 717L180 718L205 726L205 810Z" fill="#262626" filter="url(#bl2)"/><ellipse cx="172" cy="680" rx="16" ry="12" transform="rotate(-25 172 680)" fill="#646464" filter="url(#bl6)"/><ellipse cx="145" cy="707" rx="10" ry="7" transform="rotate(-10 145 707)" fill="#969696" filter="url(#bl3)"/><path d="M137.5 704Q139 700 144 700.5Q150 702 151 706Q150 710 146 712Q142 713.5 139 711Q137 708 137.5 704Z" fill="#fdfdfd" filter="url(#bl0_8)"/><ellipse cx="127.2" cy="709.5" rx="2.6" ry="4.6" transform="rotate(0 127.2 709.5)" fill="#f8f8f8" filter="url(#bl0_8)"/><ellipse cx="131.3" cy="725.6" rx="4.4" ry="4.4" transform="rotate(0 131.3 725.6)" fill="#fafafa" filter="url(#bl0_9)"/><ellipse cx="131.3" cy="750.8" rx="2.4" ry="3.0" transform="rotate(0 131.3 750.8)" fill="#d2d2d2" filter="url(#bl0_9)"/><ellipse cx="126.8" cy="775" rx="2.4" ry="2.8" transform="rotate(0 126.8 775)" fill="#c8c8c8" filter="url(#bl0_9)"/><ellipse cx="123.3" cy="797.6" rx="2.2" ry="2.2" transform="rotate(0 123.3 797.6)" fill="#d7d7d7" filter="url(#bl0_8)"/><ellipse cx="133" cy="742" rx="1.8" ry="1.8" transform="rotate(0 133 742)" fill="#a0a0a0" filter="url(#bl0_8)"/><ellipse cx="134" cy="763" rx="2.2" ry="2.2" transform="rotate(0 134 763)" fill="#969696" filter="url(#bl0_8)"/><ellipse cx="127" cy="787" rx="1.6" ry="1.6" transform="rotate(0 127 787)" fill="#969696" filter="url(#bl0_8)"/><ellipse cx="195.6" cy="730.3" rx="2.2" ry="2.2" transform="rotate(0 195.6 730.3)" fill="#b9b9b9" filter="url(#bl0_8)"/><ellipse cx="132.4" cy="695.0" rx="1.9" ry="2.1" transform="rotate(0 132.4 695.0)" fill="#7d7d7d" filter="url(#bl0_8)"/><ellipse cx="125.2" cy="711.0" rx="2.1" ry="1.8" transform="rotate(0 125.2 711.0)" fill="#949494" filter="url(#bl0_8)"/><ellipse cx="135.2" cy="723.6" rx="1.7" ry="1.4" transform="rotate(0 135.2 723.6)" fill="#898989" filter="url(#bl0_8)"/><ellipse cx="136.1" cy="805.4" rx="1.2" ry="1.2" transform="rotate(0 136.1 805.4)" fill="#939393" filter="url(#bl0_8)"/><ellipse cx="131.0" cy="712.0" rx="1.7" ry="2.1" transform="rotate(0 131.0 712.0)" fill="#797979" filter="url(#bl0_8)"/><ellipse cx="133.2" cy="765.4" rx="1.9" ry="1.7" transform="rotate(0 133.2 765.4)" fill="#8c8c8c" filter="url(#bl0_8)"/><ellipse cx="139.4" cy="725.7" rx="1.4" ry="1.4" transform="rotate(0 139.4 725.7)" fill="#7f7f7f" filter="url(#bl0_8)"/><ellipse cx="136.6" cy="772.0" rx="1.8" ry="1.6" transform="rotate(0 136.6 772.0)" fill="#898989" filter="url(#bl0_8)"/><ellipse cx="139.6" cy="787.1" rx="1.2" ry="1.8" transform="rotate(0 139.6 787.1)" fill="#838383" filter="url(#bl0_8)"/><ellipse cx="128.6" cy="696.4" rx="1.9" ry="1.6" transform="rotate(0 128.6 696.4)" fill="#939393" filter="url(#bl0_8)"/><ellipse cx="133.4" cy="722.7" rx="1.4" ry="1.5" transform="rotate(0 133.4 722.7)" fill="#909090" filter="url(#bl0_8)"/><ellipse cx="123.7" cy="721.2" rx="1.2" ry="1.6" transform="rotate(0 123.7 721.2)" fill="#888888" filter="url(#bl0_8)"/><ellipse cx="139.5" cy="753.5" rx="1.4" ry="2.2" transform="rotate(0 139.5 753.5)" fill="#868686" filter="url(#bl0_8)"/><ellipse cx="124.4" cy="711.2" rx="1.5" ry="1.3" transform="rotate(0 124.4 711.2)" fill="#848484" filter="url(#bl0_8)"/><ellipse cx="175" cy="720" rx="7" ry="4" transform="rotate(0 175 720)" fill="#707070" filter="url(#bl3)"/><ellipse cx="166" cy="701.6" rx="4" ry="3" transform="rotate(0 166 701.6)" fill="#6e6e6e" filter="url(#bl2)"/></g></g>
<g clip-path="url(#cp_etr)"><g filter="url(#tx_etr)"><rect x="184.0" y="639.8" width="188.0" height="187.2" fill="#2a2a2a"/><polygon points="195,650 360,650 360,665 352,669 315,691.5 287,704.4 250,708 204,695 195,695" fill="#1c1c1c" filter="url(#bl2)"/><polygon points="294,728 352,695 360,695 360,815 300,815 300,770" fill="#383838" filter="url(#bl3)"/><polygon points="285,713 322,688 352,669 360,665 360,695 352,695 294,728.5" fill="#545454" filter="url(#bl2)"/><path d="M200 699 L215 703 L228 707 L245 710 L262 712" fill="none" stroke="#d7d7d7" stroke-width="3.5" stroke-linecap="round" stroke-linejoin="round" filter="url(#bl1_0)"/><path d="M285 712 L315 692 L324 687" fill="none" stroke="#cdcdcd" stroke-width="3" stroke-linecap="round" stroke-linejoin="round" filter="url(#bl1_0)"/><ellipse cx="207" cy="700" rx="5" ry="4.5" transform="rotate(0 207 700)" fill="#fcfcfc" filter="url(#bl1_2)"/><ellipse cx="228" cy="707" rx="8" ry="4.6" transform="rotate(8 228 707)" fill="#fafafa" filter="url(#bl1_3)"/><polygon points="259,713 272,709.5 291,705 286,724 276,731 263,727" fill="#fcfcfc" filter="url(#bl2)"/><path d="M287 727 L297 738 L304 747" fill="none" stroke="#bebebe" stroke-width="5" stroke-linecap="round" stroke-linejoin="round" filter="url(#bl1_5)"/><path d="M296 749Q293 762 301 772Q311 779 322 774Q332 767 329 757Q321 749 310 747Q302 744 296 749Z" fill="#fcfcfc" filter="url(#bl1_5)"/></g></g>
<g clip-path="url(#cp_ebl)"><g filter="url(#tx_ebl)"><rect x="34.2" y="791.4" width="187.4" height="186.2" fill="#242424"/><polygon points="124,805 157.6,805 165,857 183.5,903.5 187,929 190,965 46,965 46,922 55.9,922 72.5,894 100,848 124.3,838.7" fill="#646464" filter="url(#bl4)"/><ellipse cx="66" cy="925" rx="12" ry="18" transform="rotate(20 66 925)" fill="#808080" filter="url(#bl5)"/><ellipse cx="140" cy="825" rx="8" ry="10" transform="rotate(0 140 825)" fill="#767676" filter="url(#bl4)"/><ellipse cx="149.0" cy="821.6" rx="2.4" ry="2.1" transform="rotate(0 149.0 821.6)" fill="#747474" filter="url(#bl1_4)"/><ellipse cx="89.1" cy="892.0" rx="1.6" ry="2.5" transform="rotate(0 89.1 892.0)" fill="#919191" filter="url(#bl1_4)"/><ellipse cx="86.6" cy="903.2" rx="3.1" ry="2.5" transform="rotate(0 86.6 903.2)" fill="#7f7f7f" filter="url(#bl1_4)"/><ellipse cx="135.3" cy="830.6" rx="2.2" ry="2.4" transform="rotate(0 135.3 830.6)" fill="#858585" filter="url(#bl1_4)"/><ellipse cx="80.4" cy="896.5" rx="2.6" ry="2.1" transform="rotate(0 80.4 896.5)" fill="#848484" filter="url(#bl1_4)"/><ellipse cx="158.0" cy="894.0" rx="2.6" ry="2.3" transform="rotate(0 158.0 894.0)" fill="#848484" filter="url(#bl1_4)"/><ellipse cx="116.4" cy="857.2" rx="2.5" ry="2.3" transform="rotate(0 116.4 857.2)" fill="#7c7c7c" filter="url(#bl1_4)"/><ellipse cx="97.8" cy="883.8" rx="2.1" ry="2.3" transform="rotate(0 97.8 883.8)" fill="#868686" filter="url(#bl1_4)"/><ellipse cx="165.6" cy="895.2" rx="3.0" ry="2.0" transform="rotate(0 165.6 895.2)" fill="#898989" filter="url(#bl1_4)"/><ellipse cx="105.1" cy="884.0" rx="2.9" ry="1.6" transform="rotate(0 105.1 884.0)" fill="#757575" filter="url(#bl1_4)"/><ellipse cx="151.0" cy="819.9" rx="2.7" ry="2.6" transform="rotate(0 151.0 819.9)" fill="#888888" filter="url(#bl1_4)"/><ellipse cx="62.6" cy="923.9" rx="1.7" ry="1.9" transform="rotate(0 62.6 923.9)" fill="#7f7f7f" filter="url(#bl1_4)"/><ellipse cx="153.7" cy="866.9" rx="1.9" ry="1.6" transform="rotate(0 153.7 866.9)" fill="#777777" filter="url(#bl1_4)"/><ellipse cx="115.2" cy="865.3" rx="2.5" ry="3.1" transform="rotate(0 115.2 865.3)" fill="#898989" filter="url(#bl1_4)"/><ellipse cx="111.5" cy="881.8" rx="2.2" ry="1.8" transform="rotate(0 111.5 881.8)" fill="#797979" filter="url(#bl1_4)"/><ellipse cx="141.7" cy="826.0" rx="2.5" ry="2.4" transform="rotate(0 141.7 826.0)" fill="#919191" filter="url(#bl1_4)"/><ellipse cx="181.7" cy="901.3" rx="1.8" ry="1.9" transform="rotate(0 181.7 901.3)" fill="#7e7e7e" filter="url(#bl1_4)"/><ellipse cx="141.9" cy="880.7" rx="1.7" ry="2.3" transform="rotate(0 141.9 880.7)" fill="#818181" filter="url(#bl1_4)"/><ellipse cx="124.1" cy="856.8" rx="1.7" ry="2.8" transform="rotate(0 124.1 856.8)" fill="#8a8a8a" filter="url(#bl1_4)"/><ellipse cx="75.4" cy="890.8" rx="1.5" ry="2.4" transform="rotate(0 75.4 890.8)" fill="#878787" filter="url(#bl1_4)"/><ellipse cx="180.0" cy="913.3" rx="1.9" ry="2.1" transform="rotate(0 180.0 913.3)" fill="#787878" filter="url(#bl1_4)"/><ellipse cx="169.1" cy="922.5" rx="1.8" ry="1.9" transform="rotate(0 169.1 922.5)" fill="#7f7f7f" filter="url(#bl1_4)"/><ellipse cx="162.0" cy="844.3" rx="2.4" ry="2.1" transform="rotate(0 162.0 844.3)" fill="#737373" filter="url(#bl1_4)"/><ellipse cx="122.9" cy="839.5" rx="2.5" ry="2.1" transform="rotate(0 122.9 839.5)" fill="#8c8c8c" filter="url(#bl1_4)"/><ellipse cx="66.4" cy="908.1" rx="3.0" ry="2.8" transform="rotate(0 66.4 908.1)" fill="#8b8b8b" filter="url(#bl1_4)"/><ellipse cx="66.7" cy="950.1" rx="2.7" ry="2.3" transform="rotate(0 66.7 950.1)" fill="#8a8a8a" filter="url(#bl1_4)"/><ellipse cx="150.0" cy="862.5" rx="2.4" ry="1.7" transform="rotate(0 150.0 862.5)" fill="#737373" filter="url(#bl1_4)"/><ellipse cx="170.7" cy="917.8" rx="1.7" ry="2.8" transform="rotate(0 170.7 917.8)" fill="#777777" filter="url(#bl1_4)"/><ellipse cx="89.1" cy="897.2" rx="1.9" ry="2.2" transform="rotate(0 89.1 897.2)" fill="#777777" filter="url(#bl1_4)"/><ellipse cx="62.9" cy="919.8" rx="3.0" ry="2.6" transform="rotate(0 62.9 919.8)" fill="#8d8d8d" filter="url(#bl1_4)"/><ellipse cx="155.1" cy="877.5" rx="2.4" ry="2.3" transform="rotate(0 155.1 877.5)" fill="#919191" filter="url(#bl1_4)"/><ellipse cx="90.2" cy="887.9" rx="3.0" ry="3.1" transform="rotate(0 90.2 887.9)" fill="#909090" filter="url(#bl1_4)"/><ellipse cx="64.7" cy="909.4" rx="2.8" ry="3.0" transform="rotate(0 64.7 909.4)" fill="#777777" filter="url(#bl1_4)"/><ellipse cx="107.5" cy="848.2" rx="1.7" ry="2.3" transform="rotate(0 107.5 848.2)" fill="#8a8a8a" filter="url(#bl1_4)"/><ellipse cx="128.8" cy="820.5" rx="3.2" ry="2.8" transform="rotate(0 128.8 820.5)" fill="#8f8f8f" filter="url(#bl1_4)"/><ellipse cx="59.8" cy="925.5" rx="2.0" ry="1.7" transform="rotate(0 59.8 925.5)" fill="#808080" filter="url(#bl1_4)"/><ellipse cx="178.0" cy="910.4" rx="3.1" ry="2.2" transform="rotate(0 178.0 910.4)" fill="#848484" filter="url(#bl1_4)"/><ellipse cx="156.3" cy="824.2" rx="1.6" ry="2.7" transform="rotate(0 156.3 824.2)" fill="#808080" filter="url(#bl1_4)"/><ellipse cx="92.0" cy="900.4" rx="1.9" ry="1.9" transform="rotate(0 92.0 900.4)" fill="#767676" filter="url(#bl1_4)"/><ellipse cx="120.3" cy="860.9" rx="2.4" ry="3.1" transform="rotate(0 120.3 860.9)" fill="#7b7b7b" filter="url(#bl1_4)"/><path d="M65 962L72.5 940Q95 895 115 882Q123 876 131 881Q150 900 161 929L167 962Z" fill="#181818" filter="url(#bl2)"/><ellipse cx="153" cy="912" rx="3.8" ry="6" transform="rotate(-10 153 912)" fill="#fcfcfc" filter="url(#bl1_0)"/><ellipse cx="183.5" cy="870" rx="2.2" ry="2.2" transform="rotate(0 183.5 870)" fill="#969696" filter="url(#bl1)"/><ellipse cx="191" cy="876" rx="2.4" ry="2.4" transform="rotate(0 191 876)" fill="#8c8c8c" filter="url(#bl1)"/></g></g>
<g clip-path="url(#cp_ebr)"><g filter="url(#tx_ebr)"><rect x="185.3" y="791.4" width="186.7" height="186.2" fill="#343434"/><ellipse cx="325" cy="820" rx="32" ry="10" transform="rotate(12 325 820)" fill="#5c5c5c" filter="url(#bl7)"/><polygon points="200,843 352,886 360,888 360,924 352,922 200,874" fill="#7a7a7a" filter="url(#bl3)"/><path d="M210 882 L280 904 L352 927" fill="none" stroke="#5a5a5a" stroke-width="2" stroke-linecap="round" stroke-linejoin="round" filter="url(#bl1_2)"/><polygon points="200,885 360,935 360,970 200,970" fill="#282828" filter="url(#bl6)"/><ellipse cx="265.4" cy="878.4" rx="5.5" ry="4.5" transform="rotate(0 265.4 878.4)" fill="#fcfcfc" filter="url(#bl1_3)"/><ellipse cx="287.9" cy="879.6" rx="4.2" ry="4.0" transform="rotate(0 287.9 879.6)" fill="#f2f2f2" filter="url(#bl1_2)"/><ellipse cx="302.7" cy="884.5" rx="3.4" ry="3.2" transform="rotate(0 302.7 884.5)" fill="#cdcdcd" filter="url(#bl1_2)"/><ellipse cx="315.5" cy="897" rx="4.8" ry="4.2" transform="rotate(0 315.5 897)" fill="#fafafa" filter="url(#bl1_3)"/></g></g>
<rect x="23.5" y="342.6" width="77.50" height="32.40" fill="#fff"/>
<text transform="matrix(0.16443 0 0 0.16484 32.349 365.038)" font-size="100" font-family="Liberation Sans, sans-serif" font-weight="bold" fill="#000" stroke="#000" stroke-width="1.82">NHIgG</text>
<rect x="198.5" y="342.3" width="55.75" height="29.95" fill="#fff"/>
<text transform="matrix(0.15028 0 0 0.17143 209.949 363.829)" font-size="100" font-family="Liberation Sans, sans-serif" font-weight="bold" fill="#000" stroke="#000" stroke-width="1.87">aPL</text>
<rect x="151.9" y="443.9" width="79.90" height="23.70" fill="#fff"/>
<text transform="matrix(0.15671 0 0 0.14835 152.230 462.185)" font-size="100" font-family="Liberation Sans, sans-serif" font-weight="bold" fill="#000" stroke="#000" stroke-width="1.97">apoER2</text>
<text transform="matrix(0.11700 0 0 0.10882 210.682 457.521)" font-size="100" font-family="Liberation Sans, sans-serif" font-weight="bold" fill="#000" stroke="#000" stroke-width="2.66">+</text>
<text transform="matrix(0.19038 0 0 0.15000 217.560 459.050)" font-size="100" font-family="Liberation Sans, sans-serif" font-weight="bold" fill="#000" stroke="#000" stroke-width="1.76">/</text>
<text transform="matrix(0.11700 0 0 0.10882 222.532 457.521)" font-size="100" font-family="Liberation Sans, sans-serif" font-weight="bold" fill="#000" stroke="#000" stroke-width="2.66">+</text>
<rect x="21.8" y="475.0" width="74.20" height="28.80" fill="#fff"/>
<text transform="matrix(0.16443 0 0 0.15934 26.349 494.654)" font-size="100" font-family="Liberation Sans, sans-serif" font-weight="bold" fill="#000" stroke="#000" stroke-width="1.85">NHIgG</text>
<rect x="197.5" y="475.0" width="55.10" height="30.00" fill="#fff"/>
<text transform="matrix(0.14944 0 0 0.16929 208.302 495.681)" font-size="100" font-family="Liberation Sans, sans-serif" font-weight="bold" fill="#000" stroke="#000" stroke-width="1.88">aPL</text>
<rect x="153" y="579.5" width="75.80" height="23.60" fill="#fff"/>
<text transform="matrix(0.15781 0 0 0.15055 154.027 597.938)" font-size="100" font-family="Liberation Sans, sans-serif" font-weight="bold" fill="#000" stroke="#000" stroke-width="1.95">apoER2</text>
<text transform="matrix(0.12000 0 0 0.16667 212.620 594.233)" font-size="100" font-family="Liberation Sans, sans-serif" font-weight="bold" fill="#000" stroke="#000" stroke-width="2.09">-</text>
<text transform="matrix(0.19615 0 0 0.14595 216.654 594.554)" font-size="100" font-family="Liberation Sans, sans-serif" font-weight="bold" fill="#000" stroke="#000" stroke-width="1.75">/</text>
<text transform="matrix(0.13200 0 0 0.16667 222.172 594.233)" font-size="100" font-family="Liberation Sans, sans-serif" font-weight="bold" fill="#000" stroke="#000" stroke-width="2.01">-</text>
<rect x="54.0" y="659.0" width="67.80" height="28.80" fill="#fff"/>
<text transform="matrix(0.17685 0 0 0.16484 60.262 680.838)" font-size="100" font-family="Liberation Sans, sans-serif" font-weight="bold" fill="#000" stroke="#000" stroke-width="1.76">NHIgG</text>
<rect x="202.1" y="659.0" width="46.90" height="28.50" fill="#fff"/>
<text transform="matrix(0.17571 0 0 0.17429 210.673 682.326)" font-size="100" font-family="Liberation Sans, sans-serif" font-weight="bold" fill="#000" stroke="#000" stroke-width="1.71">aPL</text>
<rect x="157.75" y="782" width="91.00" height="22.90" fill="#fff"/>
<text transform="matrix(0.19178 0 0 0.19011 158.175 801.308)" font-size="100" font-family="Liberation Sans, sans-serif" font-weight="bold" fill="#000" stroke="#000" stroke-width="1.57">apoER2</text>
<text transform="matrix(0.12591 0 0 0.12162 229.696 795.678)" font-size="100" font-family="Liberation Sans, sans-serif" font-weight="bold" fill="#000" stroke="#000" stroke-width="2.42">+/+</text>
<rect x="54.0" y="811.0" width="68.75" height="28.30" fill="#fff"/>
<text transform="matrix(0.17685 0 0 0.16209 61.212 831.696)" font-size="100" font-family="Liberation Sans, sans-serif" font-weight="bold" fill="#000" stroke="#000" stroke-width="1.77">NHIgG</text>
<rect x="203.5" y="811.0" width="49.10" height="26.40" fill="#fff"/>
<text transform="matrix(0.17401 0 0 0.17143 213.478 832.429)" font-size="100" font-family="Liberation Sans, sans-serif" font-weight="bold" fill="#000" stroke="#000" stroke-width="1.74">aPL</text>
<rect x="167" y="933.1" width="77.40" height="23.60" fill="#fff"/>
<text transform="matrix(0.19244 0 0 0.18556 167.073 952.603)" font-size="100" font-family="Liberation Sans, sans-serif" font-weight="bold" fill="#000" stroke="#000" stroke-width="1.59">apoER</text>
<text transform="matrix(0.13488 0 0 0.09392 230.560 948.156)" font-size="100" font-family="Liberation Sans, sans-serif" font-weight="bold" fill="#000" stroke="#000" stroke-width="2.62">-/-</text>
<text transform="matrix(0.21154 0 0 0.22535 31.654 330.525)" font-size="100" font-family="Liberation Sans, sans-serif" font-weight="bold" fill="#000" stroke="#000" stroke-width="1.37">C</text>
<text transform="matrix(0.20554 0 0 0.22174 62.111 650.200)" font-size="100" font-family="Liberation Sans, sans-serif" font-weight="bold" fill="#000" stroke="#000" stroke-width="1.40">E</text>
</svg>
</body></html>
